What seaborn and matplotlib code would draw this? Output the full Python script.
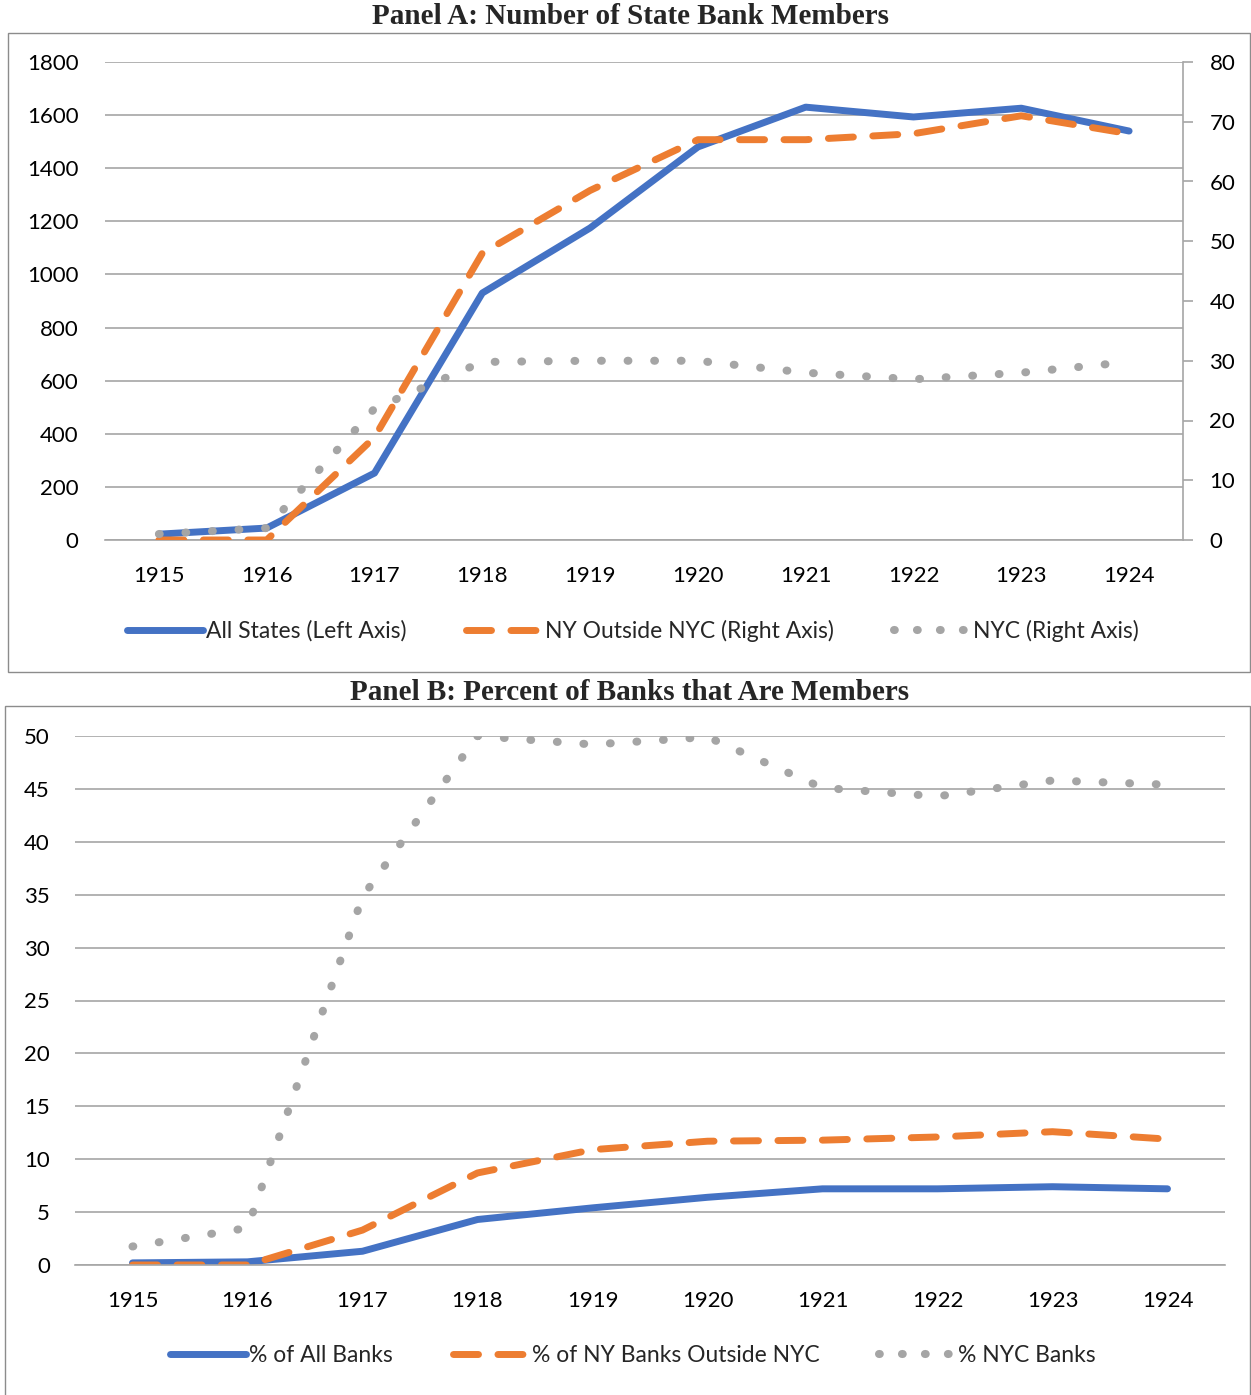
import matplotlib
matplotlib.use("Agg")
import matplotlib.pyplot as plt
import seaborn as sns
import pandas as pd
from matplotlib.patches import Rectangle
from matplotlib.lines import Line2D

# data
years = [1915, 1916, 1917, 1918, 1919, 1920, 1921, 1922, 1923, 1924]
all_states = [22, 45, 252, 930, 1175, 1480, 1630, 1593, 1626, 1540]
ny_outside = [0, 0, 17.2, 48, 58.5, 67, 67, 68, 71, 68]
nyc = [1.0, 2.0, 22, 29.8, 30.0, 30.0, 28.0, 26.9, 28.0, 29.8]

pct_all = [0.2, 0.3, 1.3, 4.3, 5.4, 6.4, 7.2, 7.2, 7.4, 7.2]
pct_ny_out = [0, 0, 3.3, 8.7, 10.9, 11.7, 11.8, 12.1, 12.6, 11.9]
pct_nyc = [1.75, 3.5, 34.8, 50.0, 49.2, 49.9, 45.1, 44.3, 45.8, 45.4]

labels_a = ["All States (Left Axis)", "NY Outside NYC (Right Axis)", "NYC (Right Axis)"]
labels_b = ["% of All Banks", "% of NY Banks Outside NYC", "% NYC Banks"]

df = pd.DataFrame({"year": years, "all": all_states, "nyout": ny_outside, "nyc": nyc,
                   "p_all": pct_all, "p_nyout": pct_ny_out, "p_nyc": pct_nyc})

sns.set_style("white")
plt.rcParams['font.family'] = ['Lato', 'DejaVu Sans']

BLUE = "#4472C4"
ORANGE = "#ED7D31"
GRAY = "#A5A5A5"
GRID = "#A6A6A6"
LW = 5.0
LW_DOT = 5.8
DOTS = (0, (0.1, 3.2))
DASHES = (0, (3.6, 2.8))

W, H = 1251, 1395
fig = plt.figure(figsize=(W / 100, H / 100), dpi=100)


def px_axes(x0, y0, x1, y1):
    return fig.add_axes([x0 / W, 1 - y1 / H, (x1 - x0) / W, (y1 - y0) / H])


solid = dict(color=BLUE, linewidth=LW)
dashed = dict(color=ORANGE, linewidth=LW, linestyle=DASHES)
dotted = dict(color=GRAY, linewidth=LW_DOT, linestyle=DOTS)


def round_caps(ax):
    for ln in ax.get_lines():
        ln.set_solid_capstyle("round")
        ln.set_dash_capstyle("round")
        ln.set_solid_joinstyle("round")
        ln.set_dash_joinstyle("round")


def legend_handles():
    return [Line2D([], [], color=BLUE, linewidth=LW, solid_capstyle="round"),
            Line2D([], [], color=ORANGE, linewidth=LW, linestyle=DASHES, dash_capstyle="round"),
            Line2D([], [], color=GRAY, linewidth=LW_DOT, linestyle=(0, (0.1, 2.75)),
                   dash_capstyle="round")]


def style_axis(ax, ymax, step):
    ax.set_xlim(1914.5, 1924.5)
    ax.set_ylim(0, ymax)
    ax.set_yticks(range(0, ymax + 1, step))
    ax.set_xticks(years)
    ax.set_xticklabels([str(y) for y in years])
    ax.grid(axis="y", color=GRID, linewidth=1.2)
    ax.set_axisbelow(True)
    for s in ["left", "top", "right"]:
        ax.spines[s].set_visible(False)
    ax.spines["bottom"].set_color(GRID)
    ax.spines["bottom"].set_linewidth(1.2)
    ax.tick_params(axis="both", length=0, labelsize=16, colors="black")
    ax.tick_params(axis="x", pad=19)
    ax.set_xlabel("")
    ax.set_ylabel("")


# Panel A
fig.patches.append(Rectangle((8 / W, 1 - 672 / H), 1242 / W, 639 / H, transform=fig.transFigure,
                             fill=False, edgecolor="#8c8c8c", linewidth=1.0))
fig.text(630 / W, 1 - 17 / H, "Panel A: Number of State Bank Members", ha="center", va="center",
         family="Liberation Serif", weight="bold", fontsize=21)

ax = px_axes(105, 62, 1183, 540)
sns.lineplot(data=df, x="year", y="all", ax=ax, **solid)
style_axis(ax, 1800, 200)
ax.tick_params(axis="y", pad=19)

ax2 = ax.twinx()
sns.lineplot(data=df, x="year", y="nyout", ax=ax2, **dashed)
sns.lineplot(data=df, x="year", y="nyc", ax=ax2, **dotted)
ax2.set_ylim(0, 80)
ax2.set_yticks(range(0, 81, 10))
ax2.set_ylabel("")
for s in ["left", "top", "bottom"]:
    ax2.spines[s].set_visible(False)
ax2.spines["right"].set_color(GRID)
ax2.spines["right"].set_linewidth(1.2)
ax2.tick_params(axis="y", length=7, width=1.2, color=GRID, labelsize=16, labelcolor="black", pad=12)
round_caps(ax)
round_caps(ax2)

fig.legend(legend_handles(), labels_a, loc="center", bbox_to_anchor=(633 / W, 1 - 631 / H), ncol=3,
           frameon=False, fontsize=16.5, handlelength=3.3, handletextpad=0.15, columnspacing=2.6)

# Panel B
fig.patches.append(Rectangle((5 / W, 1 - 1400 / H), 1245 / W, 694 / H, transform=fig.transFigure,
                             fill=False, edgecolor="#8c8c8c", linewidth=1.0))
fig.text(630 / W, 1 - 692 / H, "Panel B: Percent of Banks that Are Members", ha="center",
         va="center", family="Liberation Serif", weight="bold", fontsize=21)

bx = px_axes(75, 736, 1225, 1265)
sns.lineplot(data=df, x="year", y="p_all", ax=bx, **solid)
sns.lineplot(data=df, x="year", y="p_nyout", ax=bx, **dashed)
sns.lineplot(data=df, x="year", y="p_nyc", ax=bx, **dotted)
style_axis(bx, 50, 5)
bx.tick_params(axis="y", pad=18)
round_caps(bx)

fig.legend(legend_handles(), labels_b, loc="center", bbox_to_anchor=(633 / W, 1 - 1356 / H),
           ncol=3, frameon=False, fontsize=16.5, handlelength=3.3, handletextpad=0.15,
           columnspacing=2.6)

fig.savefig("out.png", dpi=100)
